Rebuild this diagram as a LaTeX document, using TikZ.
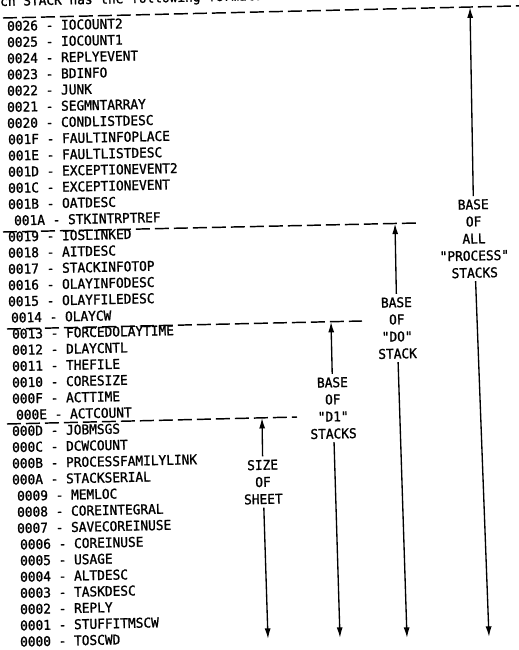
\documentclass[tikz,border=0pt]{standalone}
\usepackage{fontspec}
\newfontfamily\tw[FakeBold=1.3]{DejaVu Sans Mono}
\usetikzlibrary{arrows.meta}
\begin{document}
\begin{tikzpicture}[x=0.75pt,y=-0.75pt,
  txt/.style={font=\tw\fontsize{9.6}{12.2}\selectfont, inner sep=0pt, rotate=1.3, yscale=1.05},
  lbl/.style={txt, align=center, inner sep=2.2pt},
  sepline/.style={line width=1.1pt, dash pattern=on 10.5pt off 3.75pt},
  arr/.style={line width=1pt, -{Latex[length=8pt,width=4.5pt]}}]
\useasboundingbox (0,0) rectangle (518,650);

% heading (cut by the top edge, as in the reference)
\node[txt, anchor=base west] (head) at (0,6) {ch STACK has the following format:};

% stack rows
\foreach \k/\x/\t in {
 0/7/0026 - IOCOUNT2, 1/7/0025 - IOCOUNT1, 2/7/0024 - REPLYEVENT,
 3/7/0023 - BDINFO, 4/7/0022 - JUNK, 5/7/0021 - SEGMNTARRAY,
 6/7/0020 - CONDLISTDESC, 7/8/001F - FAULTINFOPLACE, 8/8/001E - FAULTLISTDESC,
 9/8/001D - EXCEPTIONEVENT2, 10/8/001C - EXCEPTIONEVENT, 11/8/001B - OATDESC,
 12/14/001A - STKINTRPTREF, 13/8/0019 - IOSLINKED, 14/8/0018 - AITDESC,
 15/8/0017 - STACKINFOTOP, 16/8/0016 - OLAYINFODESC, 17/8/0015 - OLAYFILEDESC,
 18/11/0014 - OLAYCW, 19/12/0013 - FORCEDOLAYTIME, 20/12/0012 - DLAYCNTL,
 21/12/0011 - THEFILE, 22/12/0010 - CORESIZE, 23/12/000F - ACTTIME,
 24/16/000E - ACTCOUNT, 25/12/000D - JOBMSGS, 26/12/000C - DCWCOUNT,
 27/12/000B - PROCESSFAMILYLINK, 28/12/000A - STACKSERIAL, 29/17/0009 - MEMLOC,
 30/17/0008 - COREINTEGRAL, 31/17/0007 - SAVECOREINUSE, 32/20/0006 - COREINUSE,
 33/20/0005 - USAGE, 34/20/0004 - ALTDESC, 35/20/0003 - TASKDESC,
 36/20/0002 - REPLY, 37/20/0001 - STUFFITMSCW, 38/20/0000 - TOSCWD}
{
  \node[txt, anchor=base west] (r\k) at (\x,{31+16.2*\k}) {\t};
}

% dashed separator lines
\coordinate (s1a) at (3,18);   \coordinate (s1b) at (522,5.8);
\coordinate (s2a) at (3,232);  \coordinate (s2b) at (417,223);
\coordinate (s3a) at (7,329);  \coordinate (s3b) at (362,321);
\coordinate (s4a) at (7,424);  \coordinate (s4b) at (297,417);
\draw[sepline] (s1a) -- (s1b);
\draw[sepline] (s2a) -- (s2b);
\draw[sepline] (s3a) -- (s3b);
\draw[sepline] (s4a) -- (s4b);

% labels
\node[lbl] (lp) at (474,238.6) {BASE\\OF\\ALL\\"PROCESS"\\STACKS};
\node[lbl] (ld) at (397,328) {BASE\\OF\\"DO"\\STACK};
\node[lbl] (li) at (333,408) {BASE\\OF\\"D1"\\STACKS};
\node[lbl] (ls) at (263,482) {SIZE\\OF\\SHEET};

% arrow end points
\coordinate (t1) at (470,7.2);   \coordinate (b1) at (489,637);
\coordinate (t2) at (395,223.5); \coordinate (b2) at (407,638);
\coordinate (t3) at (331,321.7); \coordinate (b3) at (340,638);
\coordinate (t4) at (262,417.8); \coordinate (b4) at (268,639);

\draw[arr] (lp) -- (t1); \draw[arr] (lp) -- (b1);
\draw[arr] (ld) -- (t2); \draw[arr] (ld) -- (b2);
\draw[arr] (li) -- (t3); \draw[arr] (li) -- (b3);
\draw[arr] (ls) -- (t4); \draw[arr] (ls) -- (b4);
\end{tikzpicture}
\end{document}
